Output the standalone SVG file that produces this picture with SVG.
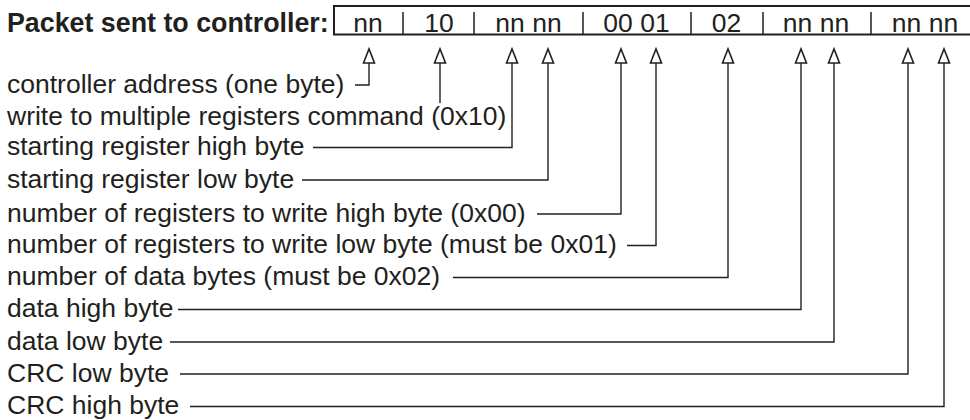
<svg xmlns="http://www.w3.org/2000/svg" width="970" height="420" viewBox="0 0 970 420">
<style>
text{font-family:"Liberation Sans",Arial,sans-serif;fill:#231f20;font-size:26.5px}
.title{font-weight:bold;font-size:26.8px}
.fld{text-anchor:middle}
.box{stroke:#231f20;stroke-width:2;fill:none}
.sep{stroke:#231f20;stroke-width:1.5;fill:none}
.conn path{stroke:#231f20;stroke-width:1.4;fill:none;marker-end:url(#tri)}
</style>
<defs>
<marker id="tri" markerUnits="userSpaceOnUse" viewBox="-2 -8 20 16" markerWidth="20" markerHeight="16" refX="0" refY="0" orient="auto">
<path d="M0 -5.5 L14 0 L0 5.5 Z" fill="#fff" stroke="#231f20" stroke-width="1.6"/>
</marker>
</defs>
<g id="packet">
<text class="title" x="7" y="31.5">Packet sent to controller:</text>
<path class="box" d="M972 6 H334 V34.5 H972"/>
<path class="sep" d="M403 12 V34.5 M474 12 V34.5 M583 12 V34.5 M691 12 V34.5 M763 12 V34.5 M871 12 V34.5"/>
<text class="fld" x="368" y="31.5">nn</text>
<text class="fld" x="439" y="31.5">10</text>
<text class="fld" x="528.5" y="31.5">nn nn</text>
<text class="fld" x="636.5" y="31.5">00 01</text>
<text class="fld" x="726.5" y="31.5">02</text>
<text class="fld" x="816" y="31.5">nn nn</text>
<text class="fld" x="925" y="31.5">nn nn</text>
</g>
<g id="label1"><text x="7" y="93">controller address (one byte)</text></g>
<g id="label2"><text x="7" y="124.5">write to multiple registers command (0x10)</text></g>
<g id="label3"><text x="7" y="155">starting register high byte</text></g>
<g id="label4"><text x="7" y="187.5">starting register low byte</text></g>
<g id="label5"><text x="7" y="221.5">number of registers to write high byte (0x00)</text></g>
<g id="label6"><text x="7" y="253">number of registers to write low byte (must be 0x01)</text></g>
<g id="label7"><text x="7" y="285">number of data bytes (must be 0x02)</text></g>
<g id="label8"><text x="7" y="317">data high byte</text></g>
<g id="label9"><text x="7" y="349.5">data low byte</text></g>
<g id="label10"><text x="7" y="381.5">CRC low byte</text></g>
<g id="label11"><text x="7" y="414">CRC high byte</text></g>
<g id="connectors" class="conn">
<path d="M355 85 H369 V63"/>
<path d="M440 103 V63"/>
<path d="M313 147.5 H512 V63"/>
<path d="M302 180 H548 V63"/>
<path d="M537 214 H621 V63"/>
<path d="M627 245.5 H656 V63"/>
<path d="M453 277.5 H728 V63"/>
<path d="M178 309.5 H801 V63"/>
<path d="M170 342 H834 V63"/>
<path d="M180 374 H908 V63"/>
<path d="M190 406.5 H944 V63"/>
</g>
</svg>
